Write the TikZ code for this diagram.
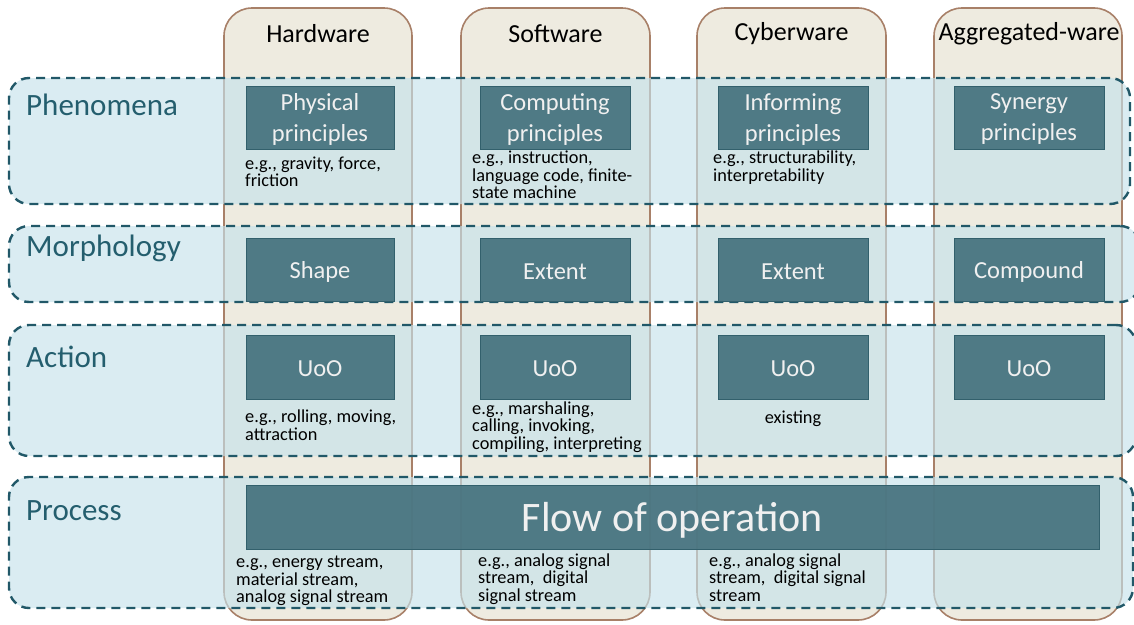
\documentclass[tikz,border=0pt]{standalone}
\usepackage{fontspec}
\setmainfont{Carlito}
\definecolor{colfill}{RGB}{238,235,224}
\definecolor{colbrd}{RGB}{168,128,104}
\definecolor{rowfill}{RGB}{198,226,235}
\definecolor{rowdash}{RGB}{33,88,104}
\definecolor{rowtxt}{RGB}{36,94,110}
\definecolor{boxfill}{RGB}{70,114,126}
\definecolor{boxbrd}{RGB}{50,96,108}
\tikzset{
  colbox/.style={draw=colbrd, fill=colfill, line width=1.6pt, rounded corners=28pt, rectangle, inner sep=0pt},
  rowbox/.style={draw=rowdash, fill=rowfill, fill opacity=0.65, line width=2.4pt, dash pattern=on 9pt off 6pt, rounded corners=20pt, rectangle, inner sep=0pt},
  rowlabel/.style={anchor=west, text=rowtxt, font=\fontsize{31}{34}\selectfont, inner sep=0pt},
  header/.style={font=\fontsize{26}{28}\selectfont, text=black, inner sep=0pt},
  darkbox/.style={draw=boxbrd, fill=boxfill, fill opacity=0.93, line width=0.8pt, rectangle, inner sep=0pt, minimum width=150pt},
  boxtxt/.style={text=white!94!black, align=center, inner sep=0pt, font=\fontsize{24.5}{31}\selectfont},
  ex/.style={anchor=north west, align=left, inner sep=0pt, font=\fontsize{18.3}{17.3}\selectfont, text=black},
}
\begin{document}
\begin{tikzpicture}[x=1pt,y=-1pt]
\useasboundingbox (0,0) rectangle (1134,624);
% columns
\node[colbox, minimum width=188pt, minimum height=612pt] (colhw) at (318,314) {};
\node[colbox, minimum width=189pt, minimum height=612pt] (colsw) at (555.5,314) {};
\node[colbox, minimum width=189pt, minimum height=612pt] (colcw) at (791.5,314) {};
\node[colbox, minimum width=188pt, minimum height=612pt] (colag) at (1028,314) {};
\node[header] (hhw) at (318,33.5) {Hardware};
\node[header] (hsw) at (555.5,33.5) {Software};
\node[header] (hcw) at (791.5,33.5) {Cyberware};
\node[header] (hag) at (1029,33.5) {Aggregated-ware};
% rows
\node[rowbox, minimum width=1121pt, minimum height=126pt] (rphen) at (569.5,141) {};
\node[rowbox, minimum width=1131pt, minimum height=76pt] (rmorph) at (574.5,264) {};
\node[rowbox, minimum width=1127pt, minimum height=131pt] (ract) at (572.5,390.5) {};
\node[rowbox, minimum width=1124pt, minimum height=131pt] (rproc) at (571,542.5) {};
\node[rowlabel] (lphen) at (26,105) {Phenomena};
\node[rowlabel] (lmorph) at (26,248) {Morphology};
\node[rowlabel] (lact) at (26,357) {Action};
\node[rowlabel] (lproc) at (26,511) {Process};
% phenomena boxes
\node[darkbox, minimum width=148pt, minimum height=63pt] (pp) at (320,117.5) {};
\node[darkbox, minimum height=63pt] (cp) at (555,117.5) {};
\node[darkbox, minimum height=63pt] (ip) at (793,117.5) {};
\node[darkbox, minimum height=63pt] (sp) at (1029,117.5) {};
\node[boxtxt] (ppt) at ([yshift=-2pt]pp.center) {Physical\\principles};
\node[boxtxt] (cpt) at ([yshift=-2pt]cp.center) {Computing\\principles};
\node[boxtxt] (ipt) at ([yshift=-2pt]ip.center) {Informing\\principles};
\node[boxtxt] (spt) at ([yshift=-2pt]sp.center) {Synergy\\principles};
\node[ex] (epp) at (245,156.5) {e.g., gravity, force,\\friction};
\node[ex] (ecp) at (472,151) {e.g., instruction,\\language code, finite-\\state machine};
\node[ex] (eip) at (713,151) {e.g., structurability,\\interpretability};
% morphology boxes
\node[darkbox, minimum width=148pt, minimum height=63pt] (shape) at (320,269.5) {};
\node[darkbox, minimum height=63pt] (ext1) at (555,269.5) {};
\node[darkbox, minimum height=63pt] (ext2) at (793,269.5) {};
\node[darkbox, minimum height=63pt] (comp) at (1029,269.5) {};
\node[boxtxt] (shapet) at ([yshift=-2.5pt]shape.center) {Shape};
\node[boxtxt] (ext1t) at ([yshift=-2.5pt]ext1.center) {Extent};
\node[boxtxt] (ext2t) at ([yshift=-2.5pt]ext2.center) {Extent};
\node[boxtxt] (compt) at ([yshift=-2.5pt]comp.center) {Compound};
% action boxes
\node[darkbox, minimum width=148pt, minimum height=64pt] (u1) at (320,367) {};
\node[darkbox, minimum height=64pt] (u2) at (555,367) {};
\node[darkbox, minimum height=64pt] (u3) at (793,367) {};
\node[darkbox, minimum height=64pt] (u4) at (1029,367) {};
\node[boxtxt] (u1t) at ([yshift=-2pt]u1.center) {UoO};
\node[boxtxt] (u2t) at ([yshift=-2pt]u2.center) {UoO};
\node[boxtxt] (u3t) at ([yshift=-2pt]u3.center) {UoO};
\node[boxtxt] (u4t) at ([yshift=-2pt]u4.center) {UoO};
\node[ex] (eu1) at (245,410) {e.g., rolling, moving,\\attraction};
\node[ex] (eu2) at (472,401.5) {e.g., marshaling,\\calling, invoking,\\compiling, interpreting};
\node[ex, anchor=north] (eu3) at (793,411) {existing};
% process
\node[darkbox, minimum width=853pt, minimum height=64pt] (flow) at (672.5,517) {};
\node[boxtxt, font=\fontsize{42}{44}\selectfont] (flowt) at ([yshift=-3pt]flow.center) {Flow of operation};
\node[ex] (ef1) at (236,556) {e.g., energy stream,\\material stream,\\analog signal stream};
\node[ex] (ef2) at (478,553.5) {e.g., analog signal\\stream,\ \ digital\\signal stream};
\node[ex] (ef3) at (709,553.5) {e.g., analog signal\\stream,\ \ digital signal\\stream};
\end{tikzpicture}
\end{document}
